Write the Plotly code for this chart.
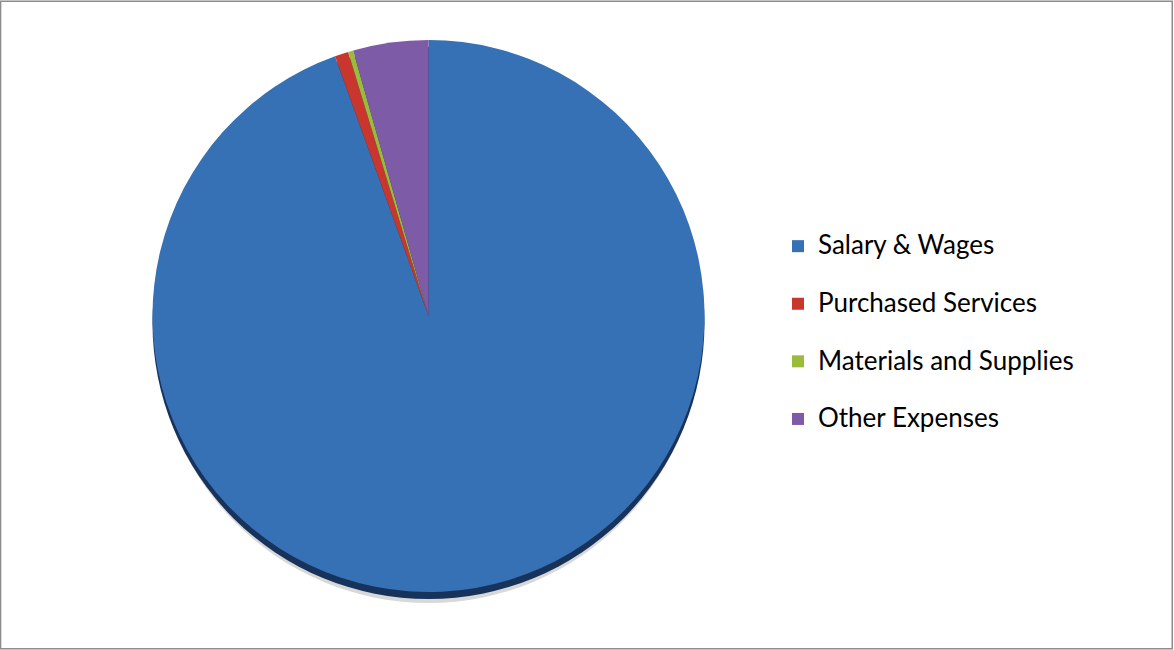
import plotly.graph_objects as go

W, H = 1174, 650

categories = ["Salary & Wages", "Purchased Services", "Materials and Supplies", "Other Expenses"]
values = [94.5, 0.8, 0.3, 4.4]
colors = ["#3670B5", "#C9362E", "#9BBB3B", "#7E5BA6"]

# pie geometry in pixels (decoration/layout only)
cx, cy, r = 428.5, 316, 276

def px_x(x):
    return x / W

def px_y(y):
    return 1 - y / H

legend_labels = ['<span style="font-size:26px">' + c + "</span><br> " for c in categories]

fig = go.Figure(go.Pie(
    labels=legend_labels,
    values=values,
    sort=False,
    direction="clockwise",
    rotation=0,
    marker=dict(colors=colors, line=dict(width=0)),
    textinfo="none",
    hoverinfo="skip",
    domain=dict(x=[px_x(cx - r), px_x(cx + r)], y=[px_y(cy + r), px_y(cy - r)]),
))

fig.update_layout(
    width=W, height=H,
    margin=dict(l=0, r=0, t=0, b=0),
    paper_bgcolor="white",
    plot_bgcolor="white",
    font=dict(family="Lato, Calibri, sans-serif", size=22, color="#000000"),
    legend=dict(
        x=px_x(778), xanchor="left",
        y=px_y(226), yanchor="top",
        valign="top",
        font=dict(size=21),
        bgcolor="rgba(0,0,0,0)",
    ),
    shapes=[
        dict(type="circle", xref="paper", yref="paper", layer="below",
             x0=px_x(cx - r + 2), x1=px_x(cx + r - 2),
             y0=px_y(cy + r + 11), y1=px_y(cy - r + 10),
             fillcolor="#d8d8d8", line=dict(width=0)),
        dict(type="circle", xref="paper", yref="paper", layer="below",
             x0=px_x(cx - r), x1=px_x(cx + r),
             y0=px_y(cy + r + 7), y1=px_y(cy - r + 7),
             fillcolor="#17335C", line=dict(width=0)),
        dict(type="rect", xref="paper", yref="paper", layer="above",
             x0=0.0005, x1=0.9985, y0=0.002, y1=0.998,
             line=dict(color="#8c8c8c", width=1.5), fillcolor="rgba(0,0,0,0)"),
    ],
)

fig.write_html("out.html", config={"displayModeBar": False},
               post_script="document.body.style.margin='0';")
